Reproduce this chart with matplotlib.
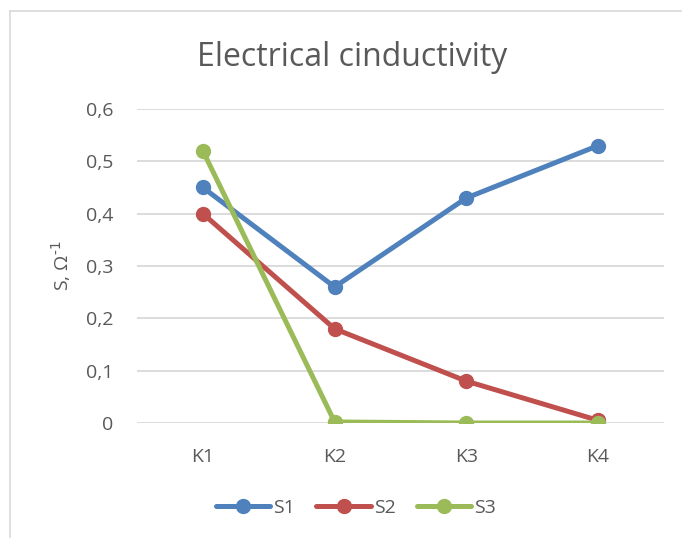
import matplotlib
matplotlib.use("Agg")
import matplotlib.pyplot as plt
from matplotlib.lines import Line2D

categories = ["K1", "K2", "K3", "K4"]
s1 = [0.45, 0.26, 0.43, 0.53]
s2 = [0.40, 0.18, 0.08, 0.005]
s3 = [0.52, 0.002, 0.0, 0.0]
series_names = ["S1", "S2", "S3"]
colors = ["#4F81BD", "#C0504D", "#9BBB59"]
yticks = [0, 0.1, 0.2, 0.3, 0.4, 0.5, 0.6]
ytick_labels = ["0", "0,1", "0,2", "0,3", "0,4", "0,5", "0,6"]

plt.rcParams['font.family'] = ['Open Sans', 'DejaVu Sans']
txt = "#595959"

fig = plt.figure(figsize=(6.82, 5.38), dpi=100)
ax = fig.add_axes([137/682, 1-423/538, (664-137)/682, (423-109)/538])

x = list(range(len(categories)))
for vals, name, c in zip([s1, s2, s3], series_names, colors):
    ax.plot(x, vals, color=c, lw=3.6, marker='o', ms=10, label=name,
            solid_capstyle='round', solid_joinstyle='round', zorder=3)

ax.set_xlim(-0.5, 3.5)
ax.set_ylim(0, 0.6)
ax.set_yticks(yticks)
ax.set_yticklabels(ytick_labels)
ax.set_xticks(x)
ax.set_xticklabels(categories)
ax.tick_params(axis='both', length=0, labelsize=14, colors=txt)
ax.tick_params(axis='y', pad=17)
ax.tick_params(axis='x', pad=18)
ax.grid(axis='y', color='#D9D9D9', lw=1.3, zorder=0)
for s in ax.spines.values():
    s.set_visible(False)
ax.set_ylabel("S, Ω$^{\\text{-}1}$", fontsize=14, color=txt, labelpad=9)

fig.text(352/682, 1-57/538, "Electrical cinductivity", ha='center', va='center',
         fontsize=23, color=txt)

leg = fig.legend(loc='center', bbox_to_anchor=(356/682, 1-508/538), ncol=3,
                 frameon=False, fontsize=14, handlelength=2.8,
                 columnspacing=1.1, handletextpad=0.15, labelcolor=txt)

fig.add_artist(Line2D([9.5/682, 9.5/682], [0, 1-10.5/538], transform=fig.transFigure,
                      color='#D9D9D9', lw=1.2))
fig.add_artist(Line2D([9.5/682, 1], [1-10.5/538, 1-10.5/538], transform=fig.transFigure,
                      color='#D9D9D9', lw=1.2))

fig.savefig("out.png", dpi=100, facecolor='white')
